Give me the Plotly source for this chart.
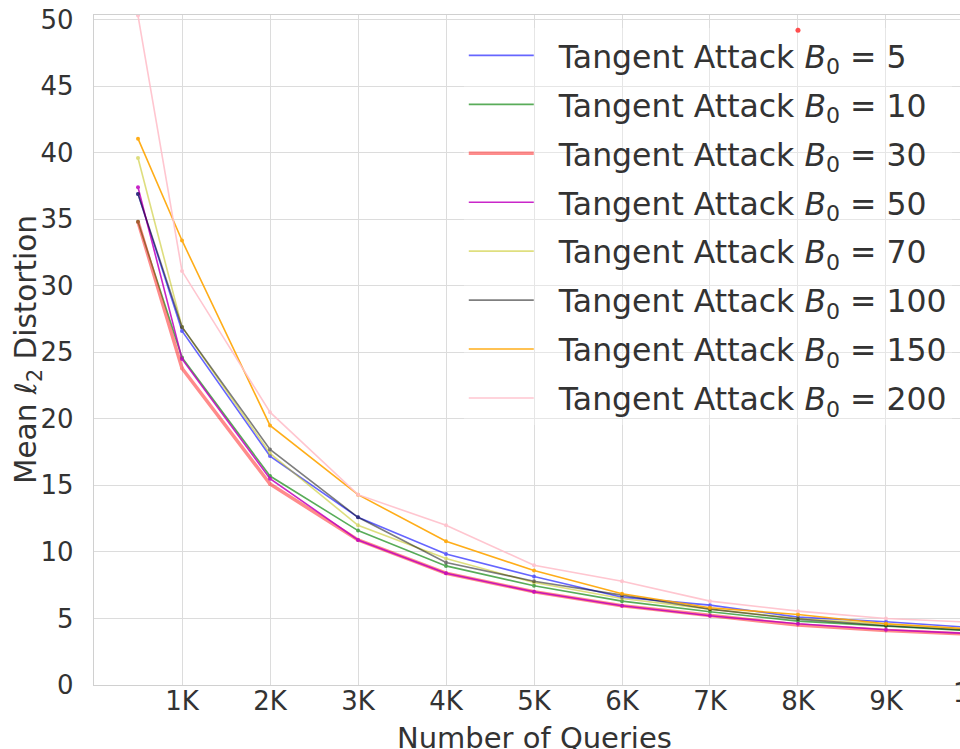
import plotly.graph_objects as go

queries = [500, 1000, 2000, 3000, 4000, 5000, 6000, 7000, 8000, 9000, 10000]

b0_5 = [36.9, 26.6, 17.2, 12.6, 9.85, 8.15, 6.6, 6.0, 5.1, 4.75, 4.3]
b0_10 = [34.8, 24.6, 15.7, 11.6, 8.95, 7.45, 6.3, 5.5, 4.8, 4.45, 4.05]
b0_30 = [34.8, 23.8, 15.1, 10.9, 8.4, 7.0, 5.95, 5.2, 4.5, 4.1, 3.8]
b0_50 = [37.4, 24.5, 15.5, 10.9, 8.4, 7.0, 5.95, 5.2, 4.6, 4.15, 3.85]
b0_70 = [39.6, 26.9, 17.4, 12.0, 9.5, 7.7, 6.5, 5.7, 5.0, 4.55, 4.15]
b0_100 = [36.9, 26.9, 17.7, 12.6, 9.2, 7.8, 6.75, 5.7, 4.95, 4.45, 4.1]
b0_150 = [41.05, 33.4, 19.5, 14.3, 10.8, 8.6, 6.85, 5.8, 5.3, 4.6, 4.2]
b0_200 = [50.3, 31.1, 20.5, 14.3, 12.0, 9.0, 7.8, 6.3, 5.55, 5.0, 4.7]

stray_x = [8000]
stray_y = [49.2]

labels = ["5", "10", "30", "50", "70", "100", "150", "200"]
x_tick_vals = [1000, 2000, 3000, 4000, 5000, 6000, 7000, 8000, 9000]
x_tick_text = ["1K", "2K", "3K", "4K", "5K", "6K", "7K", "8K", "9K"]
y_tick_vals = [0, 5, 10, 15, 20, 25, 30, 35, 40, 45, 50]

series = [b0_5, b0_10, b0_30, b0_50, b0_70, b0_100, b0_150, b0_200]
colors = ["#0000ff", "#008000", "#ff0000", "#bf00bf", "#bfbf00", "#000000", "#ffa500", "#ffc0cb"]
opac = [0.6, 0.65, 0.45, 0.85, 0.5, 0.5, 0.9, 0.9]
widths = [1.6, 1.6, 3.5, 1.6, 1.6, 1.6, 1.6, 1.6]

FONT = "DejaVu Sans"
TXT = "#333333"
X_MAX = 9841

fig = go.Figure()
for i, (vals, lab) in enumerate(zip(series, labels)):
    fig.add_trace(go.Scatter(
        x=queries, y=vals, mode="lines+markers",
        line=dict(color=colors[i], width=widths[i]),
        marker=dict(color=colors[i], size=4),
        opacity=opac[i], showlegend=False,
    ))
# legend entries (lines only, as in the reference legend)
for i, lab in enumerate(labels):
    fig.add_trace(go.Scatter(
        x=[None], y=[None], mode="lines",
        name="\u00a0\u00a0Tangent Attack <i>B</i><sub>0</sub> = " + lab,
        line=dict(color=colors[i], width=widths[i]),
        opacity=opac[i], legendgroup="g" + lab, showlegend=True,
    ))

fig.add_trace(go.Scatter(x=stray_x, y=stray_y, mode="markers",
                         marker=dict(color="#ff0000", size=5),
                         showlegend=False, hoverinfo="skip"))

axis_common = dict(
    showgrid=True, gridcolor="#dcdcdc", gridwidth=1.3,
    showline=True, linecolor="#d0d0d0", linewidth=1.3, mirror=True,
    zeroline=False, ticks="",
    tickfont=dict(family=FONT, size=26, color=TXT),
)

fig.update_layout(
    width=960, height=749,
    margin=dict(l=94, r=0, t=15, b=64),
    paper_bgcolor="white", plot_bgcolor="white",
    font=dict(family=FONT, color=TXT),
    xaxis=dict(range=[0, X_MAX], tickvals=x_tick_vals, ticktext=x_tick_text,
               ticklabelstandoff=-7, **axis_common),
    yaxis=dict(range=[0, 50.34], tickvals=y_tick_vals,
               ticklabelstandoff=14, **axis_common),
    legend=dict(x=0.427, y=0.98, xanchor="left", yanchor="top",
                bgcolor="rgba(255,255,255,0.3)", borderwidth=0,
                font=dict(family=FONT, size=31.5, color=TXT),
                itemwidth=65, tracegroupgap=5),
    showlegend=True,
)

fig.add_annotation(x=(951 - 94) / 866, xref="paper", xanchor="left",
                   y=0, yref="paper", yanchor="top",
                   yshift=9, text="10K", showarrow=False,
                   font=dict(family=FONT, size=26, color=TXT))
fig.add_annotation(x=5000, xref="x", y=0, yref="paper", yanchor="middle",
                   yshift=-53, text="Number of Queries", showarrow=False,
                   font=dict(family=FONT, size=29, color=TXT))
fig.add_annotation(x=0, xref="paper", y=0.5, yref="paper", xanchor="center",
                   xshift=-66, textangle=-90,
                   text="Mean <i>ℓ</i><sub>2</sub> Distortion", showarrow=False,
                   font=dict(family=FONT, size=29.5, color=TXT))

fig.write_html("out.html")
